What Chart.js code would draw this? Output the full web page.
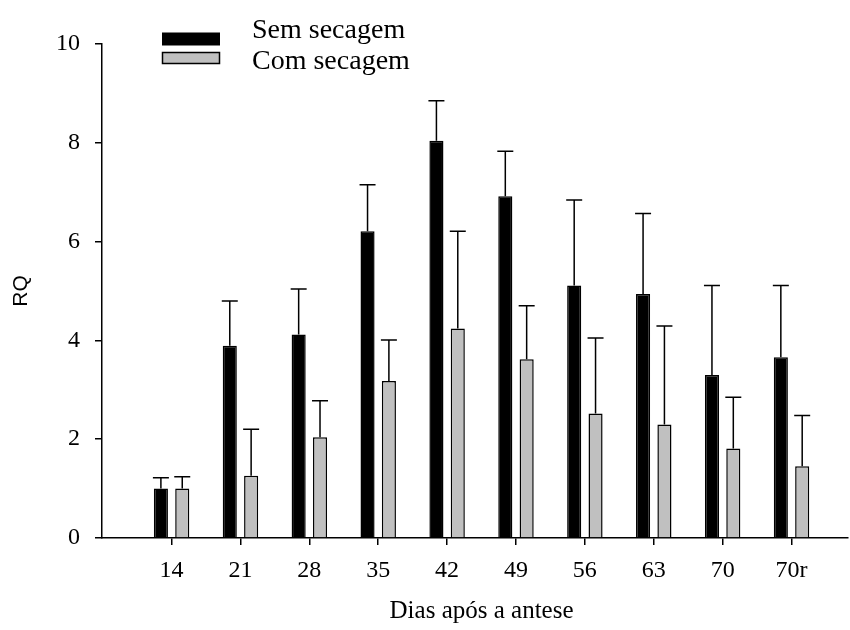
<!DOCTYPE html>
<html><head><meta charset="utf-8">
<script src="https://cdn.jsdelivr.net/npm/chart.js@4.4.1/dist/chart.umd.min.js"></script>
<style>html,body{margin:0;padding:0;background:#fff}#wrap{width:850px;height:630px}</style>
</head><body><div id="wrap"><canvas id="c" width="850" height="630"></canvas></div>
<script>
const categories = ['14','21','28','35','42','49','56','63','70','70r'];
const seriesNames = ['Sem secagem','Com secagem'];
const semSecagem = [1.00, 3.89, 4.12, 6.21, 8.04, 6.92, 5.11, 4.94, 3.30, 3.66];
const semSecagemErr = [0.22, 0.91, 0.92, 0.94, 0.81, 0.91, 1.73, 1.63, 1.81, 1.45];
const comSecagem = [1.00, 1.26, 2.04, 3.18, 4.24, 3.62, 2.52, 2.30, 1.81, 1.45];
const comSecagemErr = [0.24, 0.94, 0.74, 0.83, 1.97, 1.08, 1.53, 1.99, 1.04, 1.03];
const yTicks = [0, 2, 4, 6, 8, 10];
const xTitle = 'Dias após a antese';
const yTitle = 'RQ';

const serif = "'Liberation Serif', 'Times New Roman', serif";
const toPoints = arr => arr.map((v, i) => ({ x: i, y: v }));

const errorBars = {
  id: 'errorBars',
  afterDatasetsDraw(chart) {
    const ctx = chart.ctx, ys = chart.scales.y;
    chart.data.datasets.forEach((ds, di) => {
      const meta = chart.getDatasetMeta(di);
      meta.data.forEach((bar, i) => {
        const top = ys.getPixelForValue(ds.data[i].y + ds.errors[i]);
        ctx.save();
        ctx.strokeStyle = '#000';
        ctx.lineWidth = 1.5;
        ctx.beginPath();
        ctx.moveTo(bar.x, bar.y);
        ctx.lineTo(bar.x, top);
        ctx.moveTo(bar.x - 8, top);
        ctx.lineTo(bar.x + 8, top);
        ctx.stroke();
        ctx.restore();
      });
    });
  }
};

// x-axis title centred under the category ticks
const xTitlePlugin = {
  id: 'xTitle',
  afterDraw(chart) {
    const ctx = chart.ctx, xs = chart.scales.x;
    const cx = (xs.getPixelForValue(0) + xs.getPixelForValue(categories.length - 1)) / 2;
    ctx.save();
    ctx.fillStyle = '#000';
    ctx.font = "25px " + serif;
    ctx.textAlign = 'center';
    ctx.textBaseline = 'alphabetic';
    ctx.fillText(xTitle, cx, 618);
    ctx.restore();
  }
};

const legendPlugin = {
  id: 'customLegend',
  afterDraw(chart) {
    const ctx = chart.ctx;
    ctx.save();
    const ds = chart.data.datasets;
    ctx.fillStyle = ds[0].backgroundColor;
    ctx.fillRect(162, 32.5, 58, 13);
    ctx.fillStyle = ds[1].backgroundColor;
    ctx.fillRect(162.5, 52.5, 57, 11);
    ctx.strokeStyle = '#000';
    ctx.lineWidth = 1.5;
    ctx.strokeRect(162.5, 52.5, 57, 11);
    ctx.fillStyle = '#000';
    ctx.font = "28px " + serif;
    ctx.textBaseline = 'alphabetic';
    ctx.textAlign = 'left';
    ctx.fillText(ds[0].label, 252, 38);
    ctx.fillText(ds[1].label, 252, 69);
    ctx.restore();
  }
};

new Chart(document.getElementById('c'), {
  type: 'bar',
  data: {
    datasets: [
      { label: seriesNames[0], data: toPoints(semSecagem), errors: semSecagemErr,
        backgroundColor: '#000000', borderColor: '#000000', borderWidth: 1.5 },
      { label: seriesNames[1], data: toPoints(comSecagem), errors: comSecagemErr,
        backgroundColor: '#c0c0c0', borderColor: '#000000', borderWidth: 1.5 }
    ]
  },
  options: {
    responsive: false,
    animation: false,
    devicePixelRatio: 1,
    categoryPercentage: 0.62,
    barPercentage: 0.66,
    layout: { padding: { top: 44, right: 2, left: 0, bottom: 0 } },
    plugins: { legend: { display: false }, tooltip: { enabled: false } },
    scales: {
      x: {
        type: 'linear',
        offset: false,
        min: -1.01,
        max: 9.82,
        afterBuildTicks: s => { s.ticks = categories.map((_, i) => ({ value: i })); },
        afterFit: s => { s.height = 92; },
        ticks: {
          callback: v => categories[v],
          color: '#000',
          font: { family: serif, size: 24 },
          padding: 11,
          maxRotation: 0,
          autoSkip: false
        },
        grid: { display: true, offset: false, drawOnChartArea: false, drawTicks: true, tickLength: 7, color: '#000', lineWidth: 1.5 },
        border: { display: true, color: '#000', width: 1.5 },
        title: { display: false }
      },
      y: {
        min: 0,
        max: 10,
        afterBuildTicks: s => { s.ticks = yTicks.map(v => ({ value: v })); },
        afterFit: s => { s.width = 102; },
        ticks: { color: '#000', font: { family: serif, size: 24 }, padding: 15 },
        grid: { display: true, drawOnChartArea: false, drawTicks: true, tickLength: 7, color: '#000', lineWidth: 1.5 },
        border: { display: true, color: '#000', width: 1.5 },
        title: { display: true, text: yTitle, color: '#000', font: { family: "'Liberation Sans', Arial, sans-serif", size: 21 }, padding: { top: 9, bottom: 0 } }
      }
    }
  },
  plugins: [errorBars, xTitlePlugin, legendPlugin]
});
</script>
</body></html>
